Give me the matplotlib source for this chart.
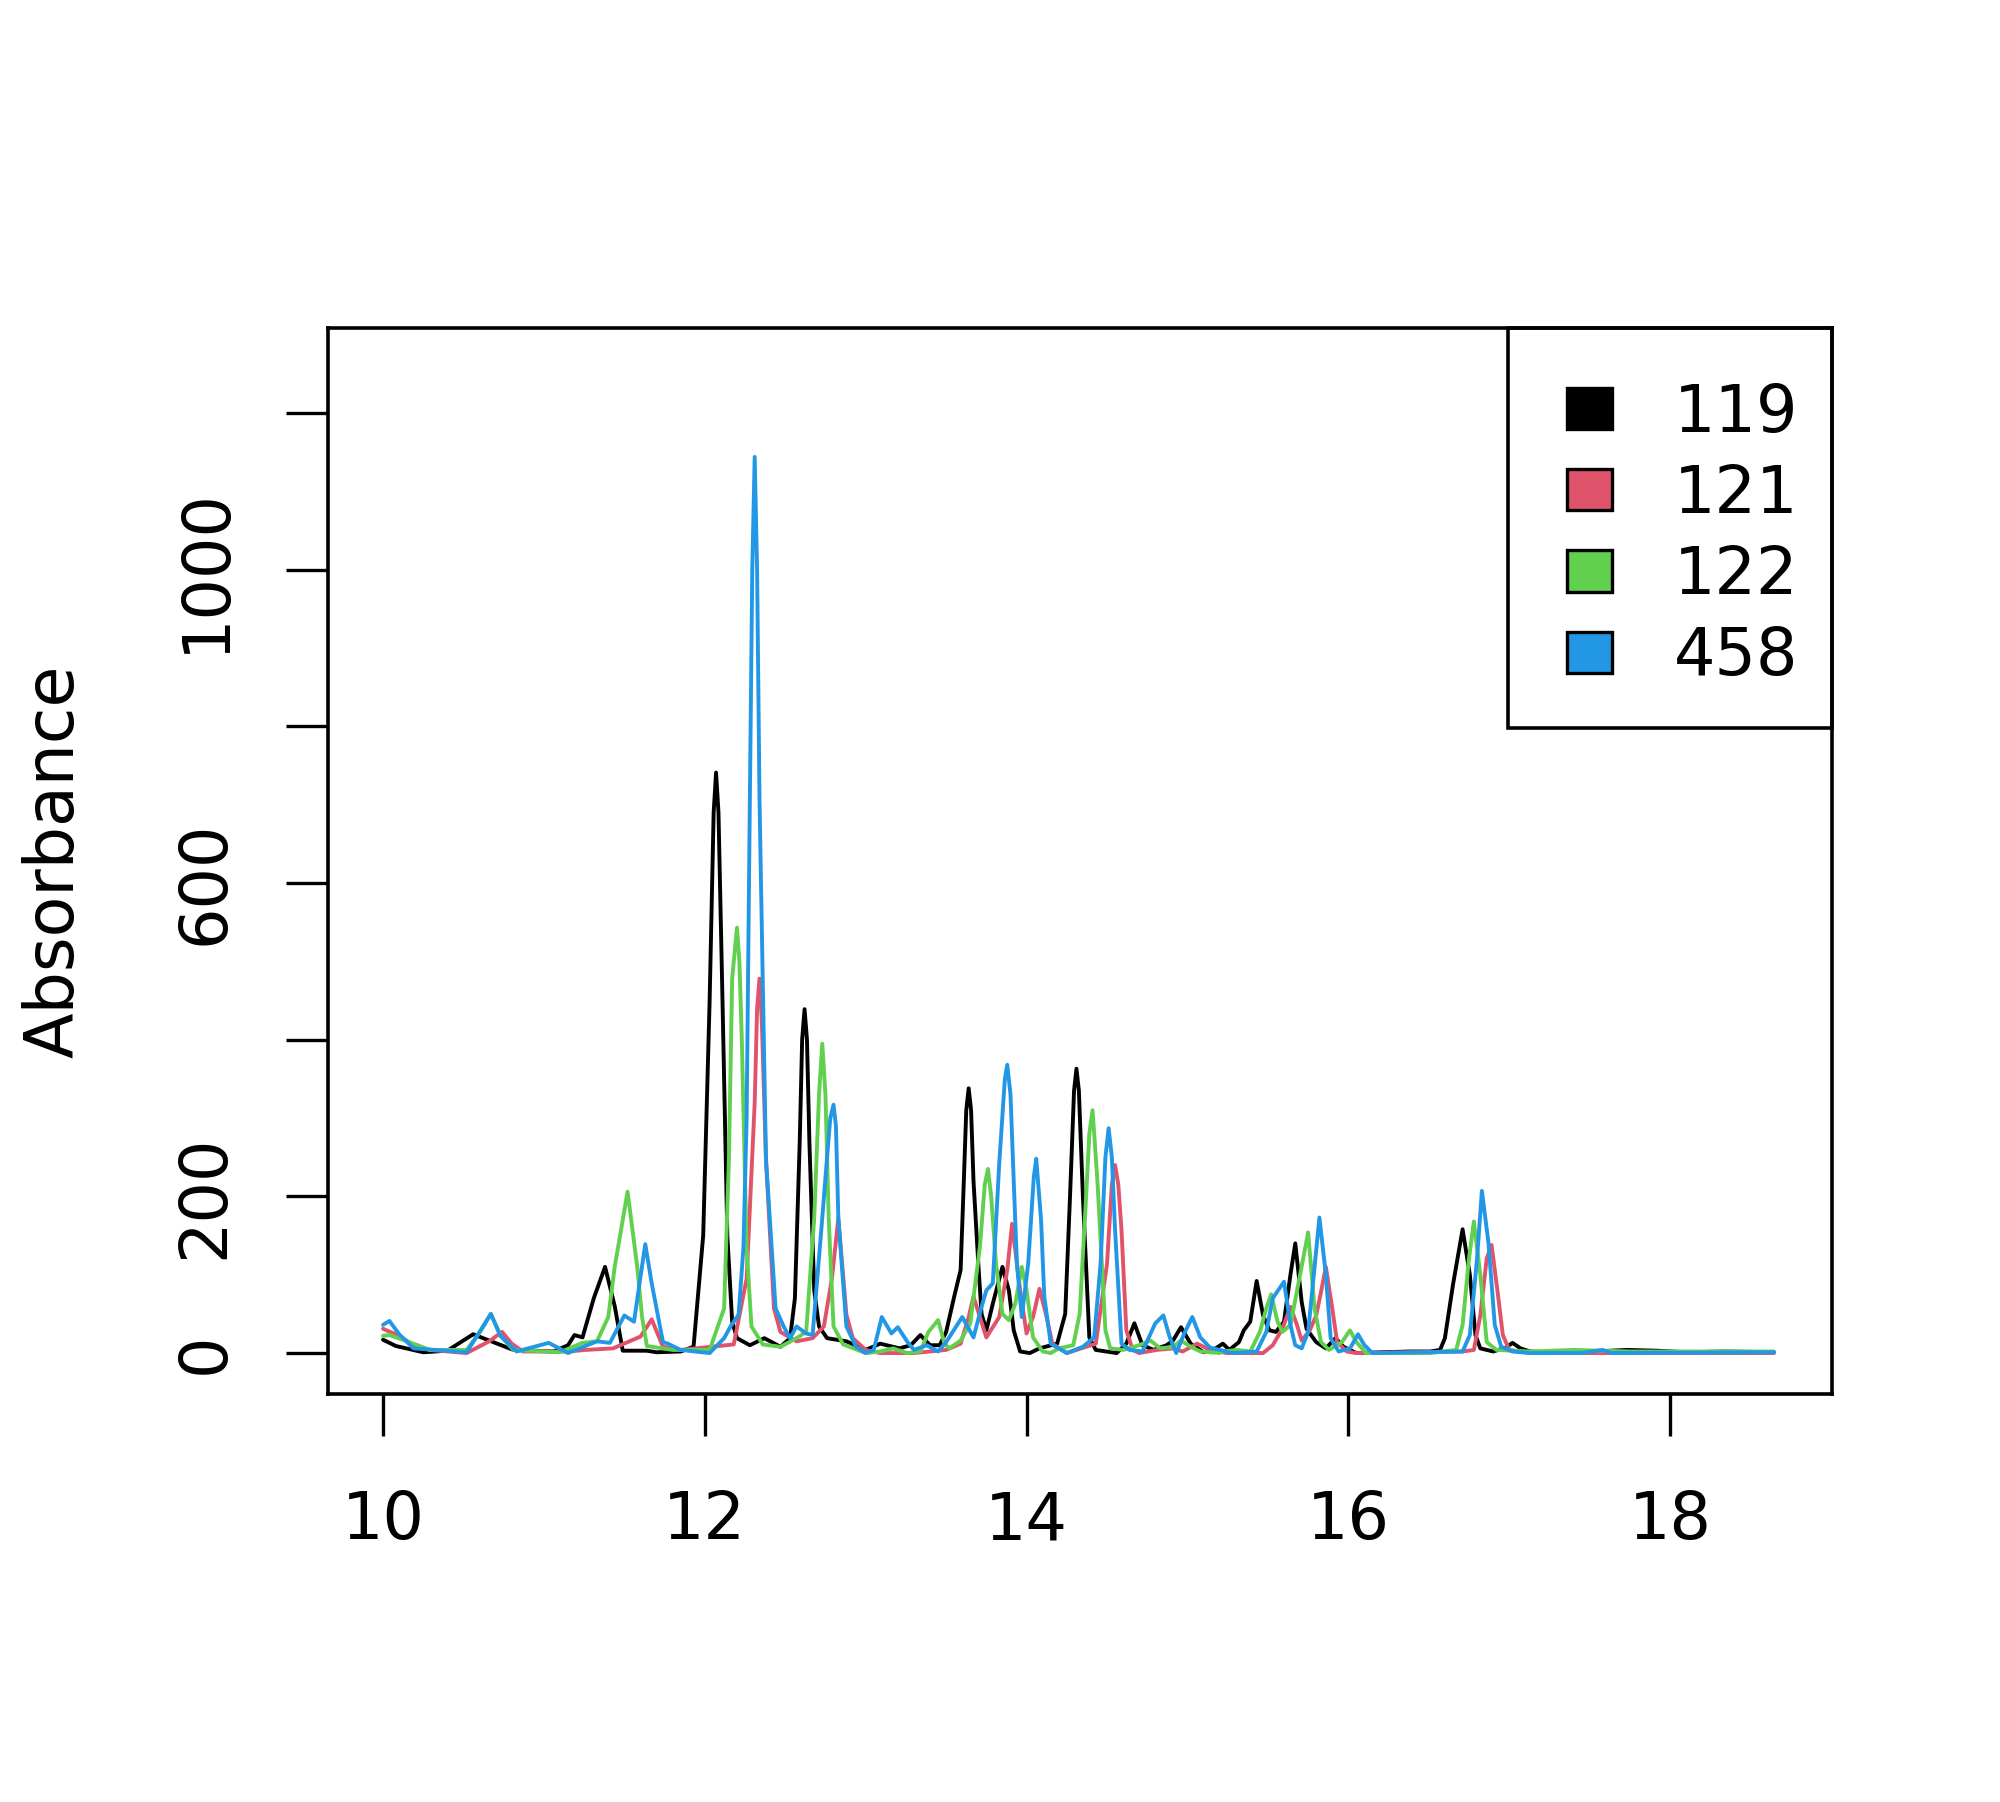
import matplotlib
matplotlib.use("Agg")
import matplotlib.pyplot as plt
from matplotlib.patches import Patch, Rectangle

# retention time (min) / absorbance, one pair per channel
t119 = [10.00, 10.08, 10.25, 10.40, 10.56, 10.81, 11.06, 11.15, 11.19, 11.24,
        11.31, 11.38, 11.44, 11.49, 11.64, 11.70, 11.85, 11.93, 11.99, 12.03,
        12.055, 12.07, 12.085, 12.11, 12.14, 12.17, 12.20, 12.28, 12.37, 12.47,
        12.53, 12.56, 12.59, 12.605, 12.62, 12.635, 12.65, 12.68, 12.71, 12.76,
        12.88, 13.00, 13.09, 13.21, 13.28, 13.34, 13.40, 13.46, 13.50, 13.55,
        13.59, 13.61, 13.625, 13.64, 13.655, 13.67, 13.70, 13.72, 13.75, 13.79,
        13.85, 13.89, 13.92, 13.96, 14.02, 14.08, 14.19, 14.24, 14.27, 14.295,
        14.31, 14.325, 14.35, 14.39, 14.43, 14.56, 14.62, 14.67, 14.72, 14.79,
        14.87, 14.91, 14.96, 15.02, 15.10, 15.16, 15.22, 15.26, 15.32, 15.35,
        15.39, 15.43, 15.47, 15.51, 15.55, 15.60, 15.64, 15.67, 15.71, 15.74,
        15.80, 15.86, 15.92, 15.97, 16.05, 16.38, 16.51, 16.57, 16.60, 16.65,
        16.71, 16.755, 16.79, 16.82, 16.90, 16.98, 17.02, 17.07, 17.13, 17.33,
        17.73, 17.92, 18.10, 18.34, 18.645]
a119 = [17, 9, 1, 3, 24, 4, 2, 10, 23, 20,
        70, 110, 60, 3, 3, 1, 2, 8, 150, 450,
        690, 741, 690, 450, 150, 40, 19, 10, 19, 8,
        19, 70, 270, 400, 439, 400, 270, 80, 34, 19,
        15, 4, 12, 6, 10, 23, 10, 10, 27, 72,
        106, 220, 310, 338, 310, 220, 114, 50, 29, 63,
        110, 80, 29, 2, 0, 6, 12, 50, 200, 335,
        363, 335, 200, 20, 4, 0, 12, 38, 10, 4,
        10, 16, 33, 12, 1, 4, 12, 4, 14, 29,
        40, 92, 48, 29, 27, 40, 100, 140, 65, 31,
        14, 6, 19, 8, 0, 2, 2, 4, 19, 87,
        158, 100, 23, 6, 2, 7, 13, 6, 2, 0,
        4, 3, 1, 2, 1]

t121 = [10.00, 10.10, 10.19, 10.29, 10.52, 10.66, 10.74, 10.80, 10.87, 11.15,
        11.26, 11.43, 11.60, 11.67, 11.74, 11.85, 12.18, 12.26, 12.31, 12.325,
        12.34, 12.355, 12.38, 12.43, 12.47, 12.57, 12.67, 12.74, 12.79, 12.83,
        12.88, 12.92, 13.00, 13.09, 13.30, 13.50, 13.59, 13.64, 13.67, 13.71,
        13.75, 13.79, 13.83, 13.88, 13.91, 13.96, 14.00, 14.04, 14.08, 14.12,
        14.16, 14.25, 14.37, 14.43, 14.50, 14.53, 14.55, 14.57, 14.59, 14.62,
        14.66, 14.70, 14.81, 14.91, 14.97, 15.06, 15.12, 15.20, 15.24, 15.47,
        15.53, 15.59, 15.64, 15.68, 15.71, 15.76, 15.80, 15.83, 15.86, 15.90,
        15.93, 15.99, 16.05, 16.71, 16.78, 16.82, 16.86, 16.89, 16.93, 16.96,
        17.00, 17.13, 18.645]
a121 = [31, 22, 10, 4, 0, 15, 27, 12, 2, 2,
        4, 6, 21, 43, 8, 4, 11, 95, 319, 440,
        478, 420, 248, 57, 27, 15, 19, 34, 95, 172,
        49, 19, 4, 0, 0, 4, 12, 46, 72, 46,
        20, 33, 46, 106, 165, 80, 25, 46, 82, 50,
        12, 0, 8, 12, 114, 215, 240, 215, 157, 29,
        4, 0, 4, 6, 2, 12, 6, 2, 0, 0,
        10, 31, 59, 36, 16, 29, 48, 78, 110, 57,
        14, 2, 0, 2, 4, 48, 121, 138, 74, 23,
        4, 0, 0]

t122 = [10.00, 10.04, 10.19, 10.29, 10.52, 10.61, 10.67, 10.73, 10.81, 11.10,
        11.24, 11.33, 11.40, 11.44, 11.52, 11.58, 11.61, 11.64, 11.80, 12.03,
        12.12, 12.15, 12.17, 12.20, 12.215, 12.23, 12.26, 12.29, 12.36, 12.47,
        12.57, 12.63, 12.68, 12.71, 12.73, 12.75, 12.77, 12.80, 12.86, 13.00,
        13.09, 13.17, 13.26, 13.34, 13.39, 13.45, 13.49, 13.52, 13.59, 13.65,
        13.71, 13.74, 13.76, 13.78, 13.81, 13.85, 13.89, 13.93, 13.97, 14.00,
        14.04, 14.10, 14.15, 14.20, 14.29, 14.33, 14.37, 14.39, 14.41, 14.44,
        14.49, 14.52, 14.60, 14.70, 14.77, 14.83, 14.91, 14.96, 15.02, 15.08,
        15.20, 15.22, 15.31, 15.39, 15.45, 15.49, 15.52, 15.56, 15.59, 15.64,
        15.70, 15.75, 15.79, 15.83, 15.88, 15.96, 16.01, 16.05, 16.11, 16.51,
        16.67, 16.71, 16.75, 16.78, 16.82, 16.86, 16.92, 17.13, 17.40, 17.75,
        18.645]
a122 = [22, 23, 12, 4, 4, 29, 50, 22, 4, 1,
        13, 15, 46, 110, 206, 110, 46, 9, 4, 4,
        57, 248, 478, 543, 500, 400, 134, 34, 11, 8,
        19, 27, 172, 330, 395, 330, 172, 34, 11, 0,
        2, 6, 0, 2, 27, 42, 12, 6, 16, 38,
        136, 215, 235, 200, 114, 50, 42, 63, 110, 80,
        20, 2, 0, 6, 10, 50, 200, 280, 310, 221,
        29, 6, 4, 10, 16, 6, 8, 16, 8, 2,
        0, 2, 4, 2, 27, 57, 75, 40, 27, 36,
        100, 154, 57, 14, 4, 14, 29, 14, 0, 0,
        4, 36, 121, 168, 100, 14, 4, 2, 4, 2,
        2]

t458 = [10.00, 10.04, 10.10, 10.19, 10.52, 10.60, 10.67, 10.73, 10.83, 11.03,
        11.15, 11.33, 11.41, 11.50, 11.56, 11.60, 11.63, 11.67, 11.74, 11.77,
        11.85, 12.03, 12.12, 12.16, 12.21, 12.24, 12.26, 12.28, 12.295, 12.31,
        12.325, 12.34, 12.38, 12.44, 12.49, 12.53, 12.57, 12.63, 12.67, 12.73,
        12.76, 12.78, 12.80, 12.815, 12.83, 12.88, 12.94, 13.00, 13.05, 13.10,
        13.16, 13.20, 13.26, 13.30, 13.38, 13.45, 13.50, 13.60, 13.67, 13.72,
        13.75, 13.79, 13.83, 13.865, 13.88, 13.90, 13.92, 13.94, 13.97, 14.01,
        14.045, 14.06, 14.09, 14.11, 14.15, 14.25, 14.35, 14.42, 14.46, 14.49,
        14.51, 14.53, 14.55, 14.59, 14.64, 14.72, 14.80, 14.85, 14.89, 14.93,
        14.98, 15.03, 15.08, 15.14, 15.20, 15.28, 15.43, 15.49, 15.53, 15.60,
        15.64, 15.67, 15.71, 15.75, 15.79, 15.82, 15.86, 15.89, 15.94, 16.01,
        16.06, 16.10, 16.15, 16.71, 16.755, 16.80, 16.83, 16.87, 16.91, 16.95,
        17.02, 17.13, 17.44, 17.58, 17.64, 18.645]
a458 = [36, 41, 24, 6, 1, 27, 50, 22, 2, 13,
        0, 15, 13, 48, 40, 97, 139, 89, 14, 12,
        4, 0, 19, 34, 49, 134, 300, 707, 1000, 1144,
        1000, 707, 248, 57, 34, 19, 34, 25, 23, 172,
        250, 300, 317, 290, 172, 34, 8, 0, 4, 46,
        25, 33, 14, 4, 10, 2, 14, 46, 20, 59,
        80, 89, 242, 350, 368, 330, 220, 114, 46, 114,
        225, 248, 170, 72, 12, 0, 8, 20, 114, 250,
        287, 250, 157, 12, 4, 2, 38, 48, 20, 0,
        25, 46, 20, 7, 4, 0, 2, 27, 70, 91,
        36, 10, 6, 27, 110, 173, 100, 19, 2, 6,
        24, 10, 0, 2, 23, 121, 207, 142, 36, 8,
        2, 0, 0, 4, 0, 1]

labels = ["119", "121", "122", "458"]
colors = ["#000000", "#DF536B", "#61D04F", "#2297E6"]

xticks = [10, 12, 14, 16, 18]
yticks = [0, 200, 400, 600, 800, 1000, 1200]
ytick_labels = ["0", "200", "", "600", "", "1000", ""]

plt.rcParams["font.family"] = "DejaVu Sans"
LW = 2.8      # data lines
LW_BOX = 2.6  # frame
FS = 47

fig = plt.figure(figsize=(20, 18.02), dpi=100)
ax = fig.add_axes([0.164, 0.2264, 0.752, 0.5916])

series = [(t119, a119), (t121, a121), (t122, a122), (t458, a458)]
for (t, a), c in zip(series, colors):
    ax.plot(t, a, color=c, lw=LW, solid_joinstyle="round", solid_capstyle="round")

ax.set_xlim(9.658, 19.006)
ax.set_ylim(-52.3, 1308.6)
ax.set_xticks(xticks)
ax.set_xticklabels([str(x) for x in xticks])
ax.set_yticks(yticks)
ax.set_yticklabels(ytick_labels, rotation=90, va="center")

ax.tick_params(length=30, width=2.4, labelsize=FS, direction="out", color="black")
ax.tick_params(axis="x", pad=38.5)
ax.tick_params(axis="y", pad=35)
for s in ax.spines.values():
    s.set_linewidth(LW_BOX)

fig.text(0.0273, 1 - 861 / 1802, "Absorbance", rotation=90, ha="center", va="center",
         fontsize=48)

# legend: R-style filled boxes, frame drawn separately so the inner margins match
handles = [Patch(facecolor=c, edgecolor="black", linewidth=2.4) for c in colors]
leg = ax.legend(handles, labels, loc="upper right", bbox_to_anchor=(0.9774, 0.9496),
                borderaxespad=0, borderpad=0, frameon=False, fontsize=FS,
                handlelength=0.69, handleheight=0.59, handletextpad=0.94,
                labelspacing=0.263)
ax.add_patch(Rectangle((0.7846, 0.6248), 0.2154, 0.3752, transform=ax.transAxes,
                       fill=False, lw=LW_BOX, ec="black", clip_on=False, zorder=5))

fig.savefig("out.png", dpi=100, facecolor="white")
